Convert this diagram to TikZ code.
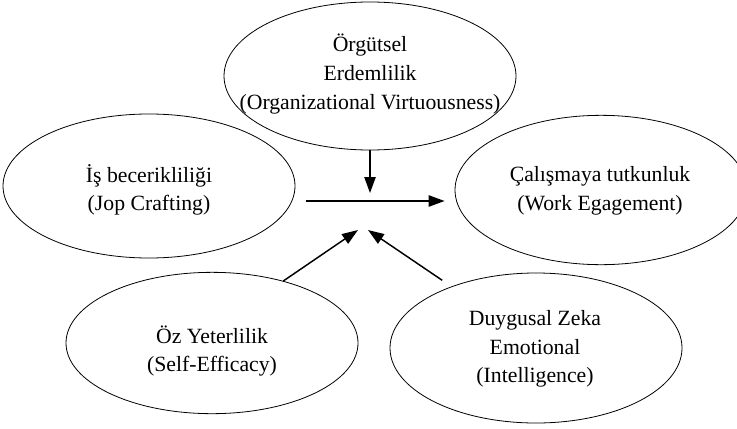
\documentclass[tikz,border=0pt]{standalone}
\usepackage{fontspec}
\setmainfont{Liberation Serif}
\usetikzlibrary{shapes,arrows.meta,positioning}

\begin{document}
\begin{tikzpicture}[x=0.75pt, y=-0.75pt]
    \tikzset{oval/.style={
      ellipse,
      draw,
      line width=.6pt,
      inner sep=0pt,
      minimum width=219pt},
      txt/.style={
      align=center,
      inner sep=0pt,
      font=\fontsize{16.3}{21.5}\selectfont},
      arr/.style={-{Triangle[length=12pt,width=8.5pt]}, line width=1.1pt}}
    \useasboundingbox (0, 0) rectangle (737, 428);

    \node[oval, minimum height=111pt] at (370, 76) (0) {};
    \node[oval, minimum height=108pt] at (149, 186) (1) {};
    \node[oval, minimum height=112pt] at (601, 190) (2) {};
    \node[oval, minimum height=106pt] at (212, 343) (3) {};
    \node[oval, minimum height=112.5pt] at (536, 348) (4) {};

    \node[txt] at (370, 74) (0t) {Örgütsel\\Erdemlilik\\(Organizational Virtuousness)};
    \node[txt] at (149, 190) (1t) {İş becerikliliği\\(Jop Crafting)};
    \node[txt] at (600, 191) (2t) {Çalışmaya tutkunluk\\(Work Egagement)};
    \node[txt] at (212, 351) (3t) {Öz Yeterlilik\\(Self-Efficacy)};
    \node[txt] at (535, 349) (4t) {Duygusal Zeka\\Emotional\\(Intelligence)};

    \coordinate (m) at (370, 201);
    \coordinate (pl) at (358, 230);
    \coordinate (pr) at (368, 230);

    \draw[arr, shorten <=8.25pt, shorten >=7.5pt] (1.east |- m) -- (2.west |- m);
    \draw[arr, shorten >=6pt] (0) -- (m);
    \draw[arr] (3.41) -- (pl);
    \draw[arr, shorten <=8.25pt] (4.144) -- (pr);
  \end{tikzpicture}
\end{document}
